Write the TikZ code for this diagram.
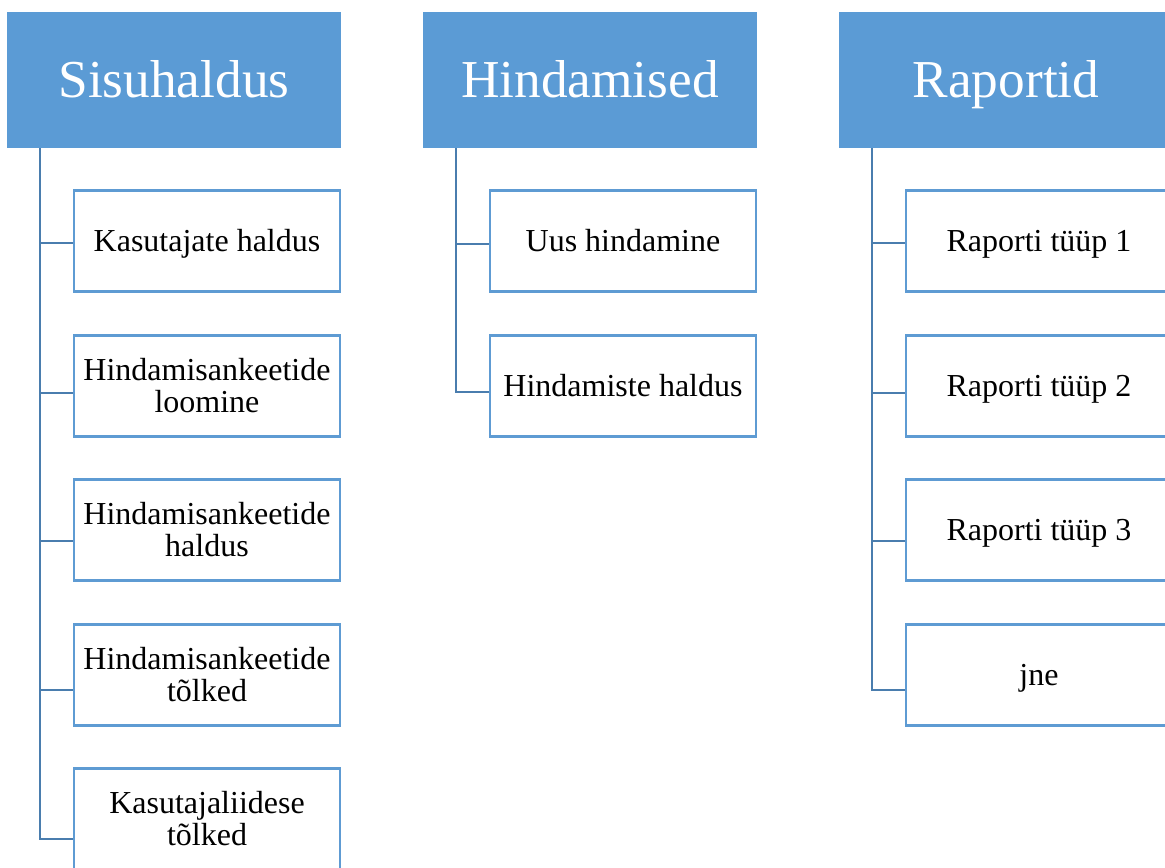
\documentclass[tikz,border=0pt]{standalone}
\usepackage{fontspec}
\setmainfont{Liberation Serif}
\definecolor{hdrblue}{HTML}{5B9BD5}
\definecolor{boxblue}{HTML}{5E9BD3}
\definecolor{linkblue}{HTML}{4A7DAE}

\begin{document}
\begin{tikzpicture}[x=0.75pt,y=-0.75pt]
\tikzset{header/.style = {fill=hdrblue,text=white,inner sep=0pt,minimum width=250.5pt,minimum height=102pt,text height=26.4pt,text depth=0pt,font=\fontsize{40}{44}\selectfont}}
\tikzset{item/.style = {draw=boxblue,fill=white,line width=1.6pt,inner sep=0pt,minimum width=199.5pt,minimum height=75.75pt,align=center,font=\fontsize{24}{24}\selectfont}}
\tikzset{oneline/.style = {item,text height=15.8pt,text depth=0pt}}
\tikzset{link/.style = {draw=linkblue,line width=1.7pt}}
\clip (0,0) rectangle (1165,868);
\fill[white] (0,0) rectangle (1165,868);
\node[header](sis) at (174, 80) {Sisuhaldus};
\node[header](hin) at (590, 80) {Hindamised};
\node[header](rap) at (1006, 80) {Raportid};
\node[oneline](kh) at (207, 241) {Kasutajate haldus};
\node[item](al) at (207, 386) {Hindamisankeetide\\loomine};
\node[item](ah) at (207, 530) {Hindamisankeetide\\haldus};
\node[item](at) at (207, 675) {Hindamisankeetide\\tõlked};
\node[item](kt) at (207, 819) {Kasutajaliidese\\tõlked};
\node[oneline](uh) at (623, 241) {Uus hindamine};
\node[oneline](hh) at (623, 386) {Hindamiste haldus};
\node[oneline](r1) at (1039, 241) {Raporti tüüp 1};
\node[oneline](r2) at (1039, 386) {Raporti tüüp 2};
\node[oneline](r3) at (1039, 530) {Raporti tüüp 3};
\node[oneline](jn) at (1039, 675) {jne};
\draw[link] ([xshift=24.75pt]sis.south west) |- ([yshift=-1.5pt]kh.west);
\draw[link] ([xshift=24.75pt]sis.south west) |- ([yshift=-5pt]al.west);
\draw[link] ([xshift=24.75pt]sis.south west) |- ([yshift=-8.5pt]ah.west);
\draw[link] ([xshift=24.75pt]sis.south west) |- ([yshift=-11.5pt]at.west);
\draw[link] ([xshift=24.75pt]sis.south west) |- ([yshift=-15pt]kt.west);
\draw[link] ([xshift=24.75pt]hin.south west) |- ([yshift=-2pt]uh.west);
\draw[link] ([xshift=24.75pt]hin.south west) |- ([yshift=-4.5pt]hh.west);
\draw[link] ([xshift=24.75pt]rap.south west) |- ([yshift=-1.5pt]r1.west);
\draw[link] ([xshift=24.75pt]rap.south west) |- ([yshift=-5pt]r2.west);
\draw[link] ([xshift=24.75pt]rap.south west) |- ([yshift=-8.5pt]r3.west);
\draw[link] ([xshift=24.75pt]rap.south west) |- ([yshift=-11.5pt]jn.west);
\end{tikzpicture}
\end{document}
